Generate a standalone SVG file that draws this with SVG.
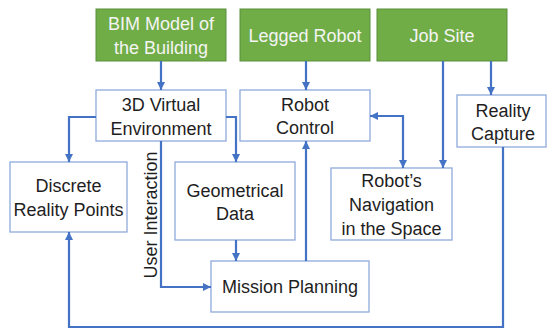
<svg xmlns="http://www.w3.org/2000/svg" width="547" height="329" viewBox="0 0 547 329">
  <style>
    .src rect { fill: #70AD47; stroke: #5B8F3A; stroke-width: 1; }
    .src text { fill: #F4F4F4; }
    .box rect { fill: #FFFFFF; stroke: #8FAADC; stroke-width: 1.3; }
    text { font-family: "Liberation Sans", Arial, sans-serif; font-size: 18px; fill: #1E1E1E; text-anchor: middle; }
    #connectors path { fill: none; stroke: #4472C4; stroke-width: 2.2; }
  </style>
  <defs>
    <marker id="arrow" viewBox="0 0 10 10" refX="10" refY="5" markerWidth="8" markerHeight="8" markerUnits="userSpaceOnUse" orient="auto-start-reverse">
      <path d="M0,0 L10,5 L0,10 Z" fill="#4472C4"/>
    </marker>
  </defs>
  <rect width="547" height="329" fill="#FFFFFF"/>

  <!-- inputs -->
  <g id="bim-model" class="src">
    <rect x="96" y="9" width="130" height="52"/>
    <text x="161" y="29.5">BIM Model of</text>
    <text x="161" y="53.5">the Building</text>
  </g>
  <g id="legged-robot" class="src">
    <rect x="240" y="9" width="130" height="52"/>
    <text x="305" y="41.5">Legged Robot</text>
  </g>
  <g id="job-site" class="src">
    <rect x="377" y="9" width="130" height="52"/>
    <text x="442" y="41.5">Job Site</text>
  </g>

  <!-- processing blocks -->
  <g id="virtual-environment" class="box">
    <rect x="96" y="90" width="130" height="51"/>
    <text x="161" y="111">3D Virtual</text>
    <text x="161" y="134.5">Environment</text>
  </g>
  <g id="robot-control" class="box">
    <rect x="240" y="90" width="130" height="51"/>
    <text x="305" y="110.5">Robot</text>
    <text x="305" y="134">Control</text>
  </g>
  <g id="reality-capture" class="box">
    <rect x="457" y="95" width="89" height="52"/>
    <text x="503" y="116.5">Reality</text>
    <text x="503" y="140">Capture</text>
  </g>
  <g id="discrete-points" class="box">
    <rect x="10" y="162" width="117" height="70"/>
    <text x="68.5" y="191.5">Discrete</text>
    <text x="68.5" y="216">Reality Points</text>
  </g>
  <g id="geometrical-data" class="box">
    <rect x="175" y="162" width="120" height="78"/>
    <text x="235" y="196.5">Geometrical</text>
    <text x="235" y="220">Data</text>
  </g>
  <g id="robot-navigation" class="box">
    <rect x="331" y="168" width="121" height="72"/>
    <text x="391.5" y="187">Robot’s</text>
    <text x="391.5" y="211">Navigation</text>
    <text x="391.5" y="235">in the Space</text>
  </g>
  <g id="mission-planning" class="box">
    <rect x="211" y="261" width="158" height="51"/>
    <text x="290" y="293">Mission Planning</text>
  </g>

  <!-- links -->
  <g id="connectors">
    <path d="M161,61 V90" marker-end="url(#arrow)"/>
    <path d="M306,61 V90" marker-end="url(#arrow)"/>
    <path d="M491,61 V95" marker-end="url(#arrow)"/>
    <path d="M443,61 V168" marker-end="url(#arrow)"/>
    <path d="M370,116 H403 V168" marker-start="url(#arrow)" marker-end="url(#arrow)"/>
    <path d="M96,117 H69 V162" marker-end="url(#arrow)"/>
    <path d="M226,117 H236 V162" marker-end="url(#arrow)"/>
    <path d="M236,240 V261" marker-end="url(#arrow)"/>
    <path d="M161,141 V287 H211" marker-end="url(#arrow)"/>
    <path d="M306,261 V141" marker-end="url(#arrow)"/>
    <path d="M503,147 V327 H69 V232" marker-end="url(#arrow)"/>
    <text x="0" y="0" transform="translate(156.5,215) rotate(-90)">User Interaction</text>
  </g>
</svg>
